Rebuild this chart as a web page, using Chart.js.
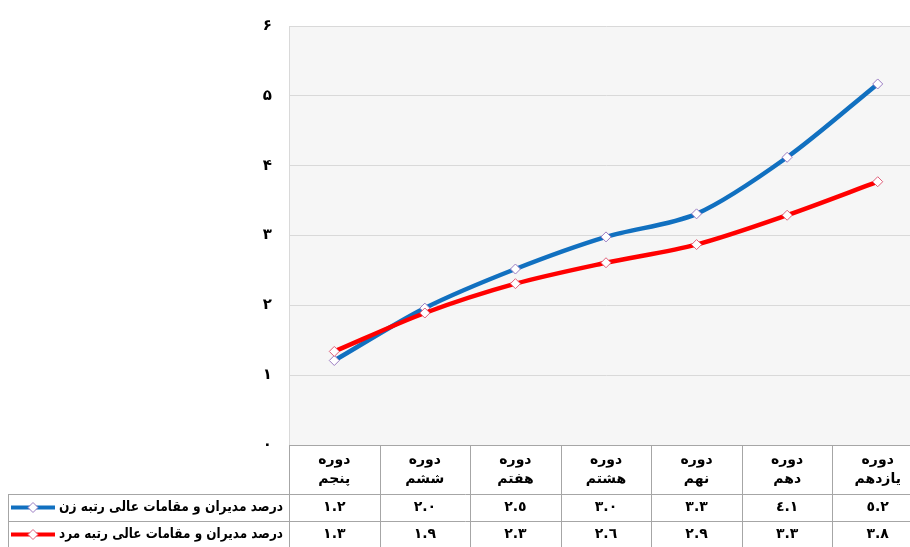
<!DOCTYPE html>
<html>
<head>
<meta charset="utf-8">
<script src="https://cdn.jsdelivr.net/npm/chart.js"></script>
<style>
  html, body { margin: 0; padding: 0; background: #fff; overflow: hidden; width: 910px; height: 547px; }
  canvas { display: block; }
</style>
</head>
<body>
<canvas id="chart" width="929" height="547"></canvas>
<script>
var categories = ['دوره پنجم', 'دوره ششم', 'دوره هفتم', 'دوره هشتم', 'دوره نهم', 'دوره دهم', 'دوره یازدهم'];
var womenValues = [1.21, 1.96, 2.52, 2.98, 3.31, 4.12, 5.17];
var menValues = [1.34, 1.89, 2.31, 2.61, 2.87, 3.29, 3.77];
var seriesNames = ['درصد مدیران و مقامات عالی رتبه زن', 'درصد مدیران و مقامات عالی رتبه مرد'];
var yMin = 0, yMax = 6, yStep = 1;

var persianDigits = '۰۱۲۳۴۵۶۷۸۹';
var arabicDigits = '٠١٢٣٤٥٦٧٨٩';
function toDigits(s, set) {
  return String(s).replace(/[0-9]/g, function(d) { return set[+d]; });
}

var FONT = "'DejaVu Sans', sans-serif";

// light gray plot background + the data table under the plot
var tablePlugin = {
  id: 'dataTable',
  beforeDraw: function(chart) {
    var a = chart.chartArea, ctx = chart.ctx;
    ctx.save();
    ctx.fillStyle = '#f6f6f6';
    ctx.fillRect(a.left, a.top, a.right - a.left, a.bottom - a.top);
    ctx.restore();
  },
  afterDraw: function(chart) {
    var a = chart.chartArea, ctx = chart.ctx;
    var n = categories.length;
    var colW = (a.right - a.left) / n;
    var top = a.bottom, r1 = top + 49, r2 = r1 + 27, r3 = r2 + 27;
    var legLeft = 8;

    ctx.save();
    ctx.strokeStyle = '#a6a6a6';
    ctx.lineWidth = 1;
    ctx.beginPath();
    ctx.moveTo(a.left, top + 0.5); ctx.lineTo(a.right, top + 0.5);
    [r1, r2, r3].forEach(function(y) { ctx.moveTo(legLeft, y + 0.5); ctx.lineTo(a.right, y + 0.5); });
    for (var i = 0; i <= n; i++) {
      var x = Math.round(a.left + i * colW) + 0.5;
      ctx.moveTo(x, top); ctx.lineTo(x, r3);
    }
    ctx.moveTo(legLeft + 0.5, r1); ctx.lineTo(legLeft + 0.5, r3);
    ctx.stroke();

    ctx.fillStyle = '#000';
    ctx.textAlign = 'center';
    ctx.textBaseline = 'middle';
    ctx.direction = 'rtl';
    var xs = chart.scales.x;
    var rows = [womenValues, menValues];
    for (var j = 0; j < n; j++) {
      var cx = xs.getPixelForValue(j);
      var parts = categories[j].split(' ');
      ctx.font = 'bold 14px ' + FONT;
      ctx.fillText(parts[0], cx, top + 15);
      ctx.fillText(parts.slice(1).join(' '), cx, top + 34);
      rows.forEach(function(vals, k) {
        ctx.fillText(toDigits(vals[j].toFixed(1), arabicDigits), cx, (k === 0 ? r1 : r2) + 13.5);
      });
    }

    // legend keys inside the table
    chart.data.datasets.forEach(function(ds, k) {
      var y = (k === 0 ? r1 : r2) + 13.5;
      ctx.font = 'bold 14px ' + FONT;
      var w = ctx.measureText(ds.label).width;
      var sx = Math.min(1, 224 / w);
      ctx.save();
      ctx.translate(a.left - 6, y);
      ctx.scale(sx, 1);
      ctx.textAlign = 'right';
      ctx.fillStyle = '#000';
      ctx.fillText(ds.label, 0, 0);
      ctx.restore();
      ctx.strokeStyle = ds.borderColor;
      ctx.lineWidth = 4;
      ctx.beginPath(); ctx.moveTo(11, y); ctx.lineTo(55, y); ctx.stroke();
      ctx.fillStyle = '#fff';
      ctx.strokeStyle = ds.pointBorderColor;
      ctx.lineWidth = 1;
      ctx.beginPath();
      ctx.moveTo(33, y - 5); ctx.lineTo(38, y); ctx.lineTo(33, y + 5); ctx.lineTo(28, y);
      ctx.closePath(); ctx.fill(); ctx.stroke();
    });
    ctx.restore();
  }
};

new Chart(document.getElementById('chart'), {
  type: 'line',
  data: {
    labels: categories,
    datasets: [
      {
        label: seriesNames[0],
        data: womenValues,
        borderColor: '#1170c0',
        borderWidth: 4.5,
        tension: 0.3,
        pointStyle: 'rectRot',
        pointRadius: 5,
        pointBackgroundColor: '#ffffff',
        pointBorderColor: '#9a7cc2',
        pointBorderWidth: 1,
        order: 1
      },
      {
        label: seriesNames[1],
        data: menValues,
        borderColor: '#ff0000',
        borderWidth: 4.5,
        tension: 0.3,
        pointStyle: 'rectRot',
        pointRadius: 5,
        pointBackgroundColor: '#ffffff',
        pointBorderColor: '#e0607a',
        pointBorderWidth: 1,
        order: 0
      }
    ]
  },
  options: {
    responsive: false,
    animation: false,
    devicePixelRatio: 1,
    layout: { padding: { left: 0, top: 21, right: 0, bottom: 102 } },
    plugins: { legend: { display: false }, tooltip: { enabled: false } },
    scales: {
      x: { type: 'category', offset: true, display: false },
      y: {
        min: yMin, max: yMax,
        afterFit: function(s) { s.width = 289; },
        ticks: {
          stepSize: yStep,
          padding: 17,
          color: '#000',
          font: { family: FONT, size: 15, weight: 'bold' },
          callback: function(v) { return toDigits(v, persianDigits); }
        },
        grid: { color: '#d9d9d9', drawTicks: false },
        border: { color: '#d9d9d9' }
      }
    }
  },
  plugins: [tablePlugin]
});
</script>
</body>
</html>
